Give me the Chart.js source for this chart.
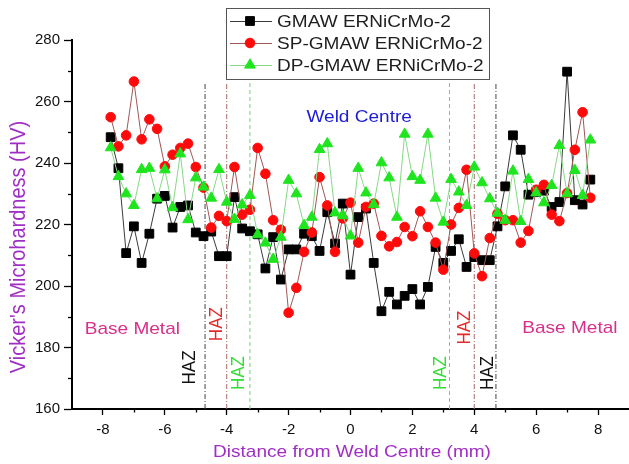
<!DOCTYPE html>
<html><head><meta charset="utf-8">
<script src="https://cdn.jsdelivr.net/npm/chart.js@4.4.1/dist/chart.umd.min.js"></script>
<style>html,body{margin:0;padding:0;background:#fff;overflow:hidden}#wrap{width:629px;height:464px;position:relative}</style>
</head><body><div id="wrap"><canvas id="c" width="629" height="464"></canvas></div>
<script>
// ---------- data ----------
const distance = [-7.75,-7.5,-7.25,-7,-6.75,-6.5,-6.25,-6,-5.75,-5.5,-5.25,-5,-4.75,-4.5,-4.25,-4,-3.75,-3.5,-3.25,-3,-2.75,-2.5,-2.25,-2,-1.75,-1.5,-1.25,-1,-0.75,-0.5,-0.25,0,0.25,0.5,0.75,1,1.25,1.5,1.75,2,2.25,2.5,2.75,3,3.25,3.5,3.75,4,4.25,4.5,4.75,5,5.25,5.5,5.75,6,6.25,6.5,6.75,7,7.25,7.5,7.75];
const gmaw = [248.4,238.3,210.7,219.4,207.5,217,228.4,229.3,219,225.7,226.2,217.4,216.2,217.7,209.7,209.7,228.9,218.7,217.8,216.8,205.7,215.9,202.1,211.9,211.9,217,216.2,211.4,224,213.8,226.8,203.7,222.4,225.2,207.5,191.8,198.1,194,196.8,199,194,199.7,212.7,207.5,211.4,215.2,206.2,209.4,208.4,208.4,219.4,232.4,249,244.3,229.7,230.5,231,225.7,227.3,269.7,227.9,226.5,234.6];
const spGmaw = [254.9,245.4,249,266.5,247.7,254.2,251.1,238.9,242.7,244.9,246.3,238.7,232,219,222.8,221.1,238.7,223.2,224.8,244.9,236.5,221.4,218.3,191.3,199.4,211.1,217.4,235.4,226.2,211.1,222,227.1,214.1,225.7,226.8,216.3,212.9,214.3,219.2,216.2,224.3,219.2,214.1,205.3,220,225.4,237.8,210.6,203.2,215.6,223.5,221.4,221.4,214.1,217.9,231.3,232.9,223.2,221.1,230.2,244.3,256.5,228.7];
const dpGmaw = [245,235.6,230,226.2,237.9,238.3,228.4,237.8,225.5,243,221.6,235.2,232.2,228.6,237.9,227.3,221.7,226.4,229.5,216.7,214,208.7,215.9,234.4,230,219.7,222.4,244.4,246.3,223.8,222.9,216.3,238.3,230.3,226.5,240.1,235.2,222.4,249.4,235.6,234.4,249.4,228.6,220.8,234.7,230.6,226.2,238.7,233.6,228.4,223.7,221.4,237.4,221,234.7,230.3,227.1,232.7,245.7,230,237.6,229.5,247.5];
const seriesNames = ['GMAW ERNiCrMo-2','SP-GMAW ERNiCrMo-2','DP-GMAW ERNiCrMo-2'];
const hazBoundaries = [-4.7,-4.0,-3.25,3.2,4.0,4.7];
const hazLineTop = 266;
const xRange = [-9, 9];
const yRange = [160, 280];
const xTickValues = [-8,-6,-4,-2,0,2,4,6,8];
const yTickValues = [160,180,200,220,240,260,280];
const xMinorTicks = [-7,-5,-3,-1,1,3,5,7];
const yMinorTicks = [170,190,210,230,250,270];
const xTitle = 'Distance from Weld Centre (mm)';
const yTitle = "Vicker's Microhardness (HV)";

// ---------- styles ----------
const FONT = "'Liberation Sans', Arial, sans-serif";
const STRETCH = 1.12;
const seriesStyle = [
  {line:'#3a3a3a', fill:'#000000', point:'rect', r:6.2},
  {line:'#a05656', fill:'#ff0a0a', point:'circle', r:4.8},
  {line:'#86d886', fill:'#1fe51f', point:'triangle', r:6.2}
];
const hazColors = ['#444444','#a86a6a','#7acb7a','#7acb7a','#a86a6a','#444444'];
const hazDash = [[5,2,1,2],[5,2,1,2],[4,3],[4,3],[5,2,1,2],[5,2,1,2]];
// annotation texts (positions in data units)
const annotations = [
  {text:'Weld Centre', x:0.28, y:255, color:'#1c1cd6', rot:0},
  {text:'Base Metal', x:-7.05, y:186, color:'#d8308a', rot:0},
  {text:'Base Metal', x:7.09, y:186.3, color:'#d8308a', rot:0},
  {text:'HAZ', x:-5.19, y:173.5, color:'#111111', rot:-Math.PI/2},
  {text:'HAZ', x:-4.33, y:187.6, color:'#e62a2a', rot:-Math.PI/2},
  {text:'HAZ', x:-3.62, y:171.7, color:'#33dd33', rot:-Math.PI/2},
  {text:'HAZ', x:2.91, y:171.7, color:'#33dd33', rot:-Math.PI/2},
  {text:'HAZ', x:3.70, y:186.5, color:'#e62a2a', rot:-Math.PI/2},
  {text:'HAZ', x:4.43, y:171.7, color:'#111111', rot:-Math.PI/2}
];

function sText(ctx, text, x, y, font, color, align, rot) {
  ctx.save();
  ctx.translate(x, y);
  ctx.scale(STRETCH, 1);
  if (rot) ctx.rotate(rot);
  ctx.font = font; ctx.fillStyle = color;
  ctx.textAlign = align || 'center'; ctx.textBaseline = 'middle';
  ctx.fillText(text, 0, 0);
  ctx.restore();
}

const decor = {
  id: 'decor',
  afterDraw(chart) {
    const ctx = chart.ctx, xs = chart.scales.x, ys = chart.scales.y;
    const ca = chart.chartArea;
    // minor ticks
    ctx.save();
    ctx.strokeStyle = '#000'; ctx.lineWidth = 1.3;
    yMinorTicks.forEach(v => { const p = Math.round(ys.getPixelForValue(v)) + 0.5; ctx.beginPath(); ctx.moveTo(ca.left - 4, p); ctx.lineTo(ca.left, p); ctx.stroke(); });
    xMinorTicks.forEach(v => { const p = Math.round(xs.getPixelForValue(v)) + 0.5; ctx.beginPath(); ctx.moveTo(p, ca.bottom); ctx.lineTo(p, ca.bottom + 3.5); ctx.stroke(); });
    ctx.restore();
    // annotations
    annotations.forEach(a => {
      sText(ctx, a.text, xs.getPixelForValue(a.x), ys.getPixelForValue(a.y), '17px ' + FONT, a.color, 'center', a.rot);
    });
    // axis titles
    sText(ctx, yTitle, 19, 247, '20px ' + FONT, '#a02ec4', 'center', -Math.PI/2);
    sText(ctx, xTitle, 352, 452, '17px ' + FONT, '#a02ec4', 'center', 0);
    // legend
    const bx = 226.5, by = 8.5, bw = 263, bh = 71;
    ctx.save();
    ctx.fillStyle = '#fff'; ctx.fillRect(bx, by, bw, bh);
    ctx.strokeStyle = '#555'; ctx.lineWidth = 1; ctx.strokeRect(bx, by, bw, bh);
    ctx.restore();
    const rows = [21, 43, 65];
    seriesNames.forEach((name, i) => {
      const st = seriesStyle[i], y = rows[i];
      ctx.save();
      ctx.strokeStyle = st.line; ctx.lineWidth = 1;
      ctx.beginPath(); ctx.moveTo(230, y + 0.5); ctx.lineTo(272, y + 0.5); ctx.stroke();
      ctx.restore();
      ctx.save(); ctx.fillStyle = st.fill; ctx.strokeStyle = st.fill; ctx.lineWidth = 1;
      Chart.helpers.drawPoint(ctx, {pointStyle: st.point, radius: st.r, borderWidth: 1, rotation: 0}, 250, y);
      ctx.restore();
      sText(ctx, name, 277, y + 1, '17px ' + FONT, '#1e1e1e', 'left', 0);
    });
  }
};

const mk = arr => distance.map((d, i) => ({x: d, y: arr[i]}));
const seriesData = [gmaw, spGmaw, dpGmaw];
const datasets = seriesData.map((arr, i) => ({
  label: seriesNames[i], data: mk(arr),
  borderColor: seriesStyle[i].line, borderWidth: 1,
  backgroundColor: seriesStyle[i].fill,
  pointBackgroundColor: seriesStyle[i].fill, pointBorderColor: seriesStyle[i].fill, pointBorderWidth: 1,
  pointStyle: seriesStyle[i].point, pointRadius: seriesStyle[i].r,
  tension: 0, showLine: true, fill: false, order: 3 - i, clip: false
}));
hazBoundaries.forEach((b, i) => {
  datasets.push({
    label: 'haz' + i, data: [{x: b, y: yRange[0]}, {x: b, y: hazLineTop}],
    borderColor: hazColors[i], borderWidth: 1, borderDash: hazDash[i],
    pointRadius: 0, showLine: true, fill: false, order: 10
  });
});

const tickFont = {family: FONT, size: 15};
new Chart(document.getElementById('c'), {
  type: 'line',
  data: {datasets},
  options: {
    responsive: false, animation: false, devicePixelRatio: 1,
    layout: {autoPadding: false, padding: {top: 40, left: 0, right: 0, bottom: 0}},
    plugins: {legend: {display: false}, tooltip: {enabled: false}},
    scales: {
      x: {
        type: 'linear', min: xRange[0], max: xRange[1],
        afterBuildTicks(s) { s.ticks = xTickValues.map(v => ({value: v})); },
        ticks: {font: tickFont, color: '#111', padding: 6, maxRotation: 0, autoSkip: false},
        grid: {drawOnChartArea: false, drawTicks: true, tickLength: 6, tickColor: '#000', tickWidth: 1.3},
        border: {display: true, color: '#000', width: 2},
        afterFit(s) { s.height = 55; s.paddingLeft = 0; s.paddingRight = 0; }
      },
      y: {
        type: 'linear', min: yRange[0], max: yRange[1],
        afterBuildTicks(s) { s.ticks = yTickValues.map(v => ({value: v})); },
        ticks: {font: tickFont, color: '#111', padding: 4, autoSkip: false},
        grid: {drawOnChartArea: false, drawTicks: true, tickLength: 8, tickColor: '#000', tickWidth: 1.3},
        border: {display: true, color: '#000', width: 2},
        afterFit(s) { s.width = 72; s.paddingTop = 0; s.paddingBottom = 0; }
      }
    }
  },
  plugins: [decor]
});
</script></body></html>
